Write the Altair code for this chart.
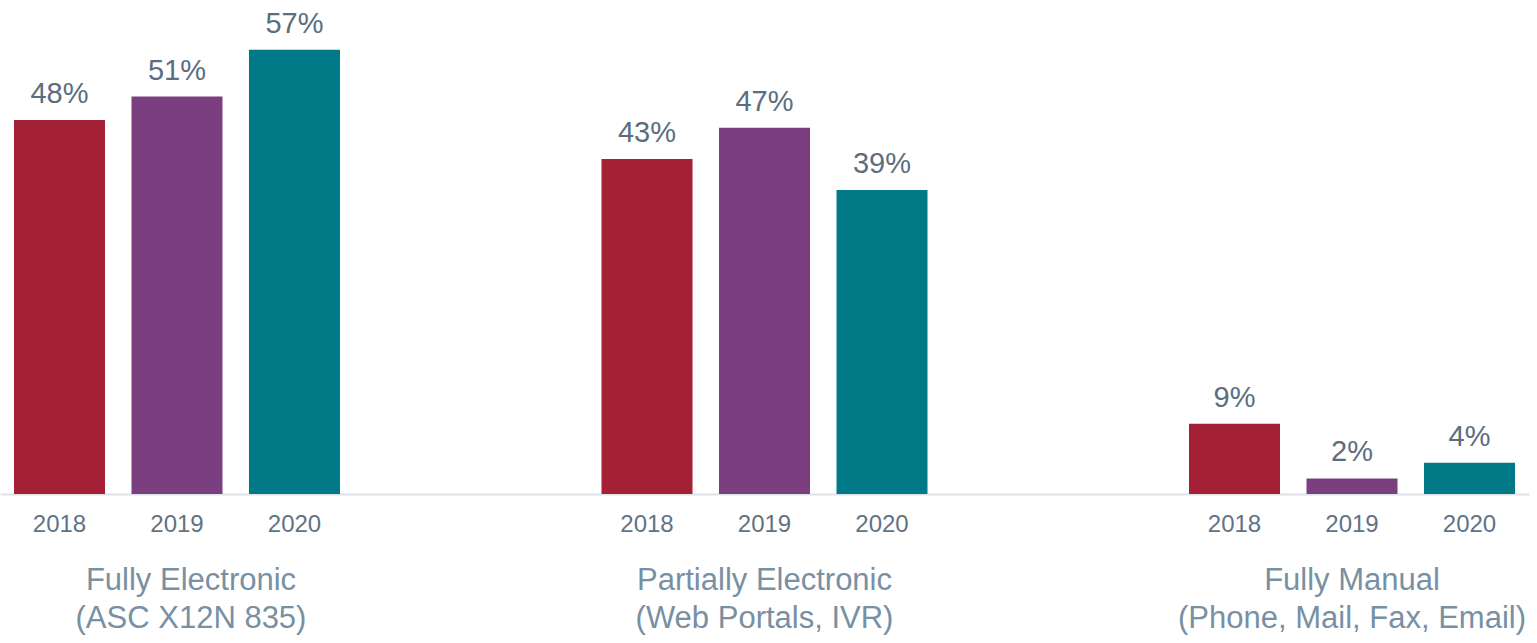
import altair as alt
import pandas as pd

groups = ["Fully Electronic\n(ASC X12N 835)",
          "Partially Electronic\n(Web Portals, IVR)",
          "Fully Manual\n(Phone, Mail, Fax, Email)"]
years = ["2018", "2019", "2020"]
values = {
    0: [48, 51, 57],
    1: [43, 47, 39],
    2: [9, 2, 4],
}
colors = ["#a32035", "#7b3f7f", "#007a87"]

# slots: 3 bars per group, 2 empty slots between groups
slots = []
for gi in range(3):
    for y in years:
        slots.append(f"{gi}|{y}")
    if gi < 2:
        slots += [f"gap{gi}a", f"gap{gi}b"]

rows = []
for gi in range(3):
    for yi, y in enumerate(years):
        rows.append({"slot": f"{gi}|{y}", "year": y, "value": values[gi][yi],
                     "label": f"{values[gi][yi]}%"})
df = pd.DataFrame(rows)

gdf = pd.DataFrame({"slot": [f"{gi}|2019" for gi in range(3)], "group": groups})

H = 494
xscale = alt.Scale(domain=slots, paddingInner=0.2255, paddingOuter=0.119)
yscale = alt.Scale(domain=[0, 63.4])

x = alt.X("slot:N", scale=xscale, title=None,
          axis=alt.Axis(labelExpr="indexof(datum.value,'gap')>=0 ? '' : split(datum.value,'|')[1]",
                        ticks=False, domainColor="#dde1e8", domainWidth=2,
                        labelFontSize=24, labelColor="#5f7386", labelFont="Liberation Sans",
                        labelPadding=18, labelAngle=0))

bars = alt.Chart(df).mark_bar().encode(
    x=x,
    y=alt.Y("value:Q", scale=yscale, axis=None),
    color=alt.Color("year:N", scale=alt.Scale(domain=years, range=colors), legend=None),
)

labels = alt.Chart(df).mark_text(baseline="alphabetic", dy=-17, fontSize=29,
                                 font="Liberation Sans", color="#5b6e80").encode(
    x=alt.X("slot:N", scale=xscale),
    y=alt.Value(0) if False else alt.Y("value:Q", scale=yscale),
    text="label:N",
)


def group_layer(data, dx):
    return alt.Chart(data).mark_text(baseline="top", fontSize=31, lineBreak="\n",
                                     lineHeight=38, font="Liberation Sans",
                                     color="#7890a3", dx=dx).encode(
        x=alt.X("slot:N", scale=xscale),
        y=alt.value(H + 72),
        text="group:N",
    )


glabels1 = group_layer(gdf.iloc[[0]], 14)
glabels2 = group_layer(gdf.iloc[1:], 0)

chart = alt.layer(bars, labels, glabels1, glabels2).properties(
    width=1529, height=H,
    autosize=alt.AutoSizeParams(type="none"),
    padding={"left": 0, "top": 0, "right": 8, "bottom": 149},
).configure_view(stroke=None)

chart.save("out.html", embed_options={"renderer": "svg", "actions": False})
